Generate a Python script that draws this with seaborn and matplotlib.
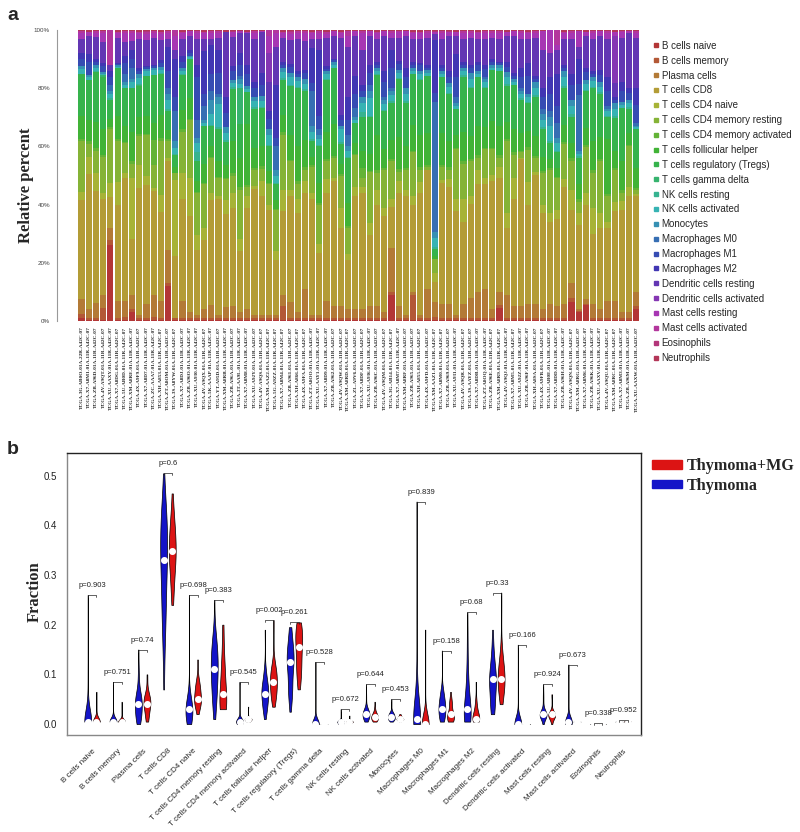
import colorsys
import pandas as pd
import matplotlib
matplotlib.use("Agg")
import matplotlib.pyplot as plt
from matplotlib.lines import Line2D
from matplotlib.patches import Patch
import seaborn as sns

# cell types in CIBERSORT order (bottom of the stack first)
cells = ["B cells naive", "B cells memory", "Plasma cells", "T cells CD8",
         "T cells CD4 naive", "T cells CD4 memory resting", "T cells CD4 memory activated",
         "T cells follicular helper", "T cells regulatory (Tregs)", "T cells gamma delta",
         "NK cells resting", "NK cells activated", "Monocytes", "Macrophages M0",
         "Macrophages M1", "Macrophages M2", "Dendritic cells resting",
         "Dendritic cells activated", "Mast cells resting", "Mast cells activated",
         "Eosinophils", "Neutrophils"]

samples = [
    "TCGA-3G-AB0O-01A-22R-A42C-07", "TCGA-X7-A8M1-01A-11R-A42C-07", "TCGA-ZB-A96D-01A-11R-A42C-07",
    "TCGA-4V-A9QT-01A-11R-A42C-07", "TCGA-XU-AAXY-01A-11R-A42C-07", "TCGA-X7-A8DG-01A-11R-A42C-07",
    "TCGA-5U-AB0D-01A-11R-A42C-07", "TCGA-XM-A8RE-01A-11R-A42C-07", "TCGA-4X-A9F9-01A-11R-A42C-07",
    "TCGA-X7-A8D7-01A-11R-A42C-07", "TCGA-ZC-AAA7-01A-11R-A42C-07", "TCGA-XH-A853-01A-11R-A42C-07",
    "TCGA-ZT-A8OM-01A-11R-A42C-07", "TCGA-3S-A8YW-01A-11R-A42C-07", "TCGA-X7-A8DJ-01A-11R-A42C-07",
    "TCGA-ZB-A96O-01A-11R-A42C-07", "TCGA-XU-A930-01A-11R-A42C-07", "TCGA-4V-A9QX-01A-11R-A42C-07",
    "TCGA-5K-AAAP-01A-11R-A42C-07", "TCGA-YT-A95D-01A-11R-A42C-07", "TCGA-XM-A8RB-01A-11R-A42C-07",
    "TCGA-ZB-A96A-01A-11R-A42C-07", "TCGA-3T-AA9L-01A-11R-A42C-07", "TCGA-X7-A8M8-01A-11R-A42C-07",
    "TCGA-XU-A92Y-01A-11R-A42C-07", "TCGA-4V-A9QS-01A-11R-A42C-07", "TCGA-XM-AAZ2-01A-11R-A42C-07",
    "TCGA-5G-A9ZZ-01A-11R-A42C-07", "TCGA-X7-A8M4-01A-11R-A42C-07", "TCGA-ZB-A961-01A-11R-A42C-07",
    "TCGA-XH-A866-01A-11R-A42C-07", "TCGA-4X-A9FA-01A-11R-A42C-07", "TCGA-ZT-A8OO-01A-11R-A42C-07",
    "TCGA-XU-AAY1-01A-21R-A42C-07", "TCGA-X7-A8D9-01A-11R-A42C-07", "TCGA-ZB-A962-01A-11R-A42C-07",
    "TCGA-4V-A9QW-01A-11R-A42C-07", "TCGA-XM-A8RD-01A-11R-A42C-07", "TCGA-ZL-A9V6-01A-11R-A42C-07",
    "TCGA-X7-A8DF-01A-11R-A42C-07", "TCGA-XU-A936-01A-11R-A42C-07", "TCGA-ZB-A96C-01A-11R-A42C-07",
    "TCGA-4V-A9QM-01A-11R-A42C-07", "TCGA-3G-AB14-01A-11R-A42C-07", "TCGA-X7-A8M7-01A-11R-A42C-07",
    "TCGA-XM-A8RF-01A-11R-A42C-07", "TCGA-ZB-A965-01A-11R-A42C-07", "TCGA-XH-A855-01A-11R-A42C-07",
    "TCGA-4X-A9FD-01A-11R-A42C-07", "TCGA-XM-AAZ1-01A-11R-A42C-07", "TCGA-X7-A8M0-01A-11R-A42C-07",
    "TCGA-ZB-A969-01A-11R-A42C-07", "TCGA-XU-A931-01A-11R-A42C-07", "TCGA-4V-A9QR-01A-11R-A42C-07",
    "TCGA-3S-AAYZ-01A-11R-A42C-07", "TCGA-X7-A8DB-01A-11R-A42C-07", "TCGA-ZT-A8OQ-01A-11R-A42C-07",
    "TCGA-ZB-A96E-01A-11R-A42C-07", "TCGA-XM-A8R9-01A-11R-A42C-07", "TCGA-4V-A9QJ-01A-11R-A42C-07",
    "TCGA-X7-A8M5-01A-11R-A42C-07", "TCGA-XU-A92Z-01A-11R-A42C-07", "TCGA-ZB-A96F-01A-11R-A42C-07",
    "TCGA-XH-A8SA-01A-11R-A42C-07", "TCGA-4X-A9FB-01A-11R-A42C-07", "TCGA-5U-AB0E-01A-11R-A42C-07",
    "TCGA-X7-A8DD-01A-11R-A42C-07", "TCGA-ZB-A96H-01A-11R-A42C-07", "TCGA-4V-A9QN-01A-11R-A42C-07",
    "TCGA-XM-A8RG-01A-11R-A42C-07", "TCGA-X7-A8M6-01A-11R-A42C-07", "TCGA-ZB-A96K-01A-11R-A42C-07",
    "TCGA-XU-AAXV-01A-11R-A42C-07", "TCGA-4V-A9QU-01A-11R-A42C-07", "TCGA-XM-A8RC-01A-11R-A42C-07",
    "TCGA-X7-A8M3-01A-11R-A42C-07", "TCGA-ZB-A96M-01A-11R-A42C-07", "TCGA-XU-AAXW-01A-11R-A42C-07"]

T, M = "Thymoma", "Thymoma+MG"
groups = [T, M, M, T, T, M, T, T, M, T,
          T, M, T, T, M, M, T, T, T, T,
          M, M, T, M, T, M, T, T, M, T,
          M, M, T, T, M, T, M, T, T, M,
          T, M, T, T, M, T, T, M, T, T,
          T, M, T, M, T, M, T, T, M, T,
          M, T, M, T, T, T, T, T, M, M,
          T, M, T, T, T, M, T, T]

b_cells_naive = [
    .010, .005, .005, .005, .260, .005, .005, .030, .005, .005,
    .005, .005, .120, .005, .005, .005, .005, .005, .005, .005,
    .005, .005, .005, .005, .005, .005, .005, .005, .005, .005,
    .005, .005, .005, .005, .005, .005, .005, .005, .005, .005,
    .005, .005, .005, .090, .005, .005, .005, .005, .005, .005,
    .005, .005, .005, .005, .005, .005, .005, .005, .045, .005,
    .005, .005, .005, .005, .005, .005, .005, .005, .065, .030,
    .055, .005, .005, .005, .005, .005, .005, .040]
b_cells_memory = [
    .015, .005, .005, .040, .020, .005, .010, .010, .005, .005,
    .010, .005, .010, .005, .005, .005, .005, .005, .005, .005,
    .005, .005, .005, .005, .005, .005, .005, .005, .045, .005,
    .005, .005, .005, .005, .005, .005, .005, .005, .005, .005,
    .005, .005, .005, .010, .005, .005, .085, .005, .005, .010,
    .005, .005, .005, .005, .005, .005, .005, .005, .010, .005,
    .005, .005, .005, .005, .005, .005, .005, .005, .015, .005,
    .005, .005, .005, .005, .005, .005, .005, .010]
plasma_cells = [
    .050, .030, .050, .045, .040, .060, .055, .050, .010, .050,
    .075, .060, .115, .000, .060, .020, .010, .030, .045, .010,
    .040, .040, .020, .030, .010, .010, .010, .010, .040, .055,
    .020, .100, .010, .010, .060, .040, .040, .030, .030, .030,
    .040, .040, .020, .150, .040, .010, .010, .010, .100, .050,
    .050, .050, .010, .050, .070, .090, .100, .030, .045, .080,
    .040, .040, .050, .050, .030, .050, .040, .050, .050, .005,
    .015, .050, .030, .060, .060, .020, .020, .050]
t_cells_cd8 = [
    .340, .465, .385, .330, .105, .330, .420, .190, .440, .410,
    .355, .305, .305, .215, .350, .330, .225, .240, .360, .400,
    .320, .340, .210, .350, .435, .410, .360, .190, .290, .365,
    .340, .330, .400, .215, .370, .430, .270, .170, .390, .400,
    .245, .350, .330, .140, .390, .410, .300, .420, .410, .070,
    .415, .400, .360, .280, .320, .370, .360, .440, .390, .230,
    .370, .505, .340, .440, .330, .280, .300, .400, .250, .290,
    .325, .240, .280, .250, .310, .350, .400, .330]
t_cells_cd4_naive = [
    .030, .060, .060, .020, .050, .080, .020, .210, .080, .030,
    .010, .060, .010, .260, .090, .130, .050, .040, .025, .010,
    .050, .050, .040, .040, .010, .050, .020, .030, .070, .020,
    .050, .040, .020, .030, .050, .010, .070, .020, .030, .020,
    .040, .050, .030, .030, .040, .020, .030, .040, .000, .030,
    .010, .030, .040, .080, .030, .050, .020, .020, .040, .050,
    .070, .005, .080, .010, .030, .030, .030, .030, .070, .040,
    .040, .090, .050, .020, .030, .030, .030, .005]
t_cells_cd4_memory_resting = [
    .175, .045, .075, .125, .185, .140, .100, .050, .100, .140,
    .080, .185, .060, .025, .140, .200, .145, .150, .120, .060,
    .070, .060, .170, .030, .055, .040, .070, .140, .190, .100,
    .050, .040, .090, .135, .060, .070, .110, .090, .110, .030,
    .175, .060, .130, .130, .030, .070, .150, .040, .010, .050,
    .045, .030, .170, .120, .120, .040, .100, .090, .030, .250,
    .080, .020, .110, .050, .110, .150, .110, .120, .100, .040,
    .160, .120, .180, .090, .110, .030, .140, .015]
t_cells_cd4_memory_activated = [
    .005, .010, .010, .005, .005, .005, .005, .010, .005, .005,
    .085, .010, .005, .000, .010, .005, .005, .005, .005, .005,
    .005, .010, .010, .010, .005, .010, .005, .005, .010, .005,
    .010, .010, .005, .005, .010, .005, .005, .005, .005, .035,
    .005, .010, .005, .005, .010, .005, .005, .010, .005, .000,
    .005, .010, .005, .010, .005, .010, .005, .005, .010, .005,
    .010, .005, .010, .005, .005, .005, .005, .005, .010, .010,
    .005, .010, .005, .005, .005, .010, .005, .005]
t_cells_follicular_helper = [
    .080, .070, .090, .090, .030, .080, .055, .100, .060, .060,
    .060, .080, .030, .020, .065, .070, .035, .065, .035, .055,
    .045, .110, .100, .210, .070, .070, .040, .030, .060, .085,
    .120, .090, .030, .070, .090, .110, .035, .080, .035, .060,
    .060, .120, .065, .065, .110, .075, .090, .110, .110, .010,
    .110, .090, .045, .100, .080, .100, .070, .090, .100, .060,
    .080, .060, .055, .070, .050, .030, .030, .060, .050, .050,
    .060, .100, .075, .190, .060, .100, .040, .070]
t_cells_regulatory = [
    .145, .140, .170, .180, .065, .165, .130, .150, .105, .140,
    .165, .140, .065, .040, .120, .135, .070, .130, .070, .110,
    .080, .180, .115, .110, .135, .130, .085, .055, .120, .170,
    .200, .170, .055, .125, .180, .195, .070, .155, .070, .115,
    .125, .205, .130, .130, .200, .150, .175, .190, .195, .025,
    .195, .160, .090, .190, .165, .170, .135, .175, .190, .125,
    .150, .115, .095, .135, .095, .055, .055, .125, .090, .090,
    .125, .180, .150, .075, .115, .180, .085, .135]
t_cells_gamma_delta = [
    0, 0, 0, .005, 0, 0, 0, 0, .004, 0,
    0, 0, 0, 0, 0, 0, 0, 0, 0, 0,
    0, 0, .125, 0, 0, 0, 0, 0, 0, 0,
    0, 0, 0, 0, 0, 0, 0, 0, 0, 0,
    0, 0, 0, 0, 0, 0, 0, 0, 0, 0,
    0, 0, 0, 0, 0, 0, 0, 0, 0, 0,
    0, 0, 0, 0, 0, 0, 0, 0, 0, 0,
    0, 0, 0, 0, 0, 0, 0, 0]
nk_cells_resting = [
    .000, .000, .005, .000, .005, .000, .000, .000, .005, .000,
    .000, .005, .010, .005, .005, .000, .030, .000, .005, .005,
    .005, .005, .000, .000, .005, .005, .005, .005, .005, .005,
    .005, .005, .005, .005, .005, .000, .005, .005, .000, .017,
    .005, .005, .005, .005, .005, .005, .000, .005, .000, .005,
    .000, .005, .000, .005, .005, .000, .005, .000, .000, .005,
    .000, .005, .005, .005, .005, .010, .005, .010, .010, .005,
    .005, .005, .005, .005, .005, .000, .005, .000]
nk_cells_activated = [
    .015, .010, .010, .005, .015, .005, .010, .020, .020, .015,
    .015, .010, .030, .020, .010, .005, .030, .010, .035, .080,
    .025, .015, .015, .010, .020, .020, .035, .025, .020, .025,
    .020, .020, .025, .020, .015, .010, .045, .020, .010, .033,
    .060, .010, .020, .020, .015, .025, .010, .015, .010, .030,
    .010, .020, .010, .015, .025, .010, .015, .010, .010, .025,
    .010, .015, .015, .025, .025, .050, .025, .030, .030, .010,
    .020, .020, .020, .015, .025, .010, .015, .005]
monocytes = [
    .010, .005, .010, .005, .010, .005, .010, .010, .015, .010,
    .010, .010, .020, .025, .010, .005, .020, .010, .050, .025,
    .020, .010, .015, .010, .015, .015, .020, .020, .015, .015,
    .015, .015, .020, .015, .010, .010, .010, .015, .010, .020,
    .025, .010, .015, .015, .010, .020, .010, .010, .010, .021,
    .010, .015, .010, .010, .020, .010, .010, .010, .010, .015,
    .010, .010, .010, .020, .020, .030, .020, .020, .020, .010,
    .015, .015, .015, .010, .020, .010, .010, .005]
macrophages_m0 = [
    0, 0, 0, 0, .02, 0, .03, .04, 0, 0,
    0, 0, .02, .10, 0, 0, .06, .05, .03, .01,
    0, 0, .01, 0, 0, 0, 0, .08, 0, 0,
    0, 0, .12, .02, 0, 0, 0, .04, .03, 0,
    .02, 0, .01, .01, 0, 0, 0, 0, 0, .45,
    0, 0, .02, 0, 0, 0, .01, 0, 0, 0,
    0, .01, 0, 0, .02, .02, .05, 0, 0, .19,
    0, 0, 0, .01, 0, 0, 0, .01]
macrophages_m1 = [
    .025, .045, .010, .020, .030, .005, .035, .030, .010, .005,
    .005, .015, .060, .050, .020, .010, .148, .040, .060, .070,
    .050, .030, .040, .040, .030, .040, .035, .030, .010, .020,
    .010, .020, .030, .045, .010, .005, .020, .050, .050, .020,
    .040, .010, .050, .070, .020, .040, .010, .020, .010, .030,
    .010, .020, .070, .010, .020, .020, .025, .010, .005, .020,
    .010, .040, .065, .010, .040, .060, .060, .010, .050, .040,
    .025, .010, .025, .050, .010, .040, .025, .060]
macrophages_m2 = [
    .020, .030, .010, .010, .020, .005, .025, .030, .010, .005,
    .005, .010, .080, .130, .020, .010, .042, .150, .100, .080,
    .055, .020, .040, .030, .020, .040, .025, .180, .010, .010,
    .010, .010, .120, .225, .010, .005, .020, .080, .060, .020,
    .030, .010, .040, .060, .010, .030, .010, .010, .010, .185,
    .010, .020, .080, .010, .010, .010, .015, .010, .005, .015,
    .010, .030, .045, .010, .030, .060, .110, .010, .040, .085,
    .015, .010, .015, .050, .010, .030, .015, .060]
dendritic_cells_resting = [
    .050, .060, .075, .075, .020, .085, .050, .030, .100, .090,
    .090, .070, .030, .030, .060, .050, .090, .040, .020, .040,
    .225, .100, .070, .110, .150, .140, .100, .130, .085, .085,
    .110, .100, .030, .040, .095, .080, .265, .170, .140, .120,
    .100, .080, .120, .040, .080, .110, .080, .080, .090, .020,
    .090, .120, .060, .080, .090, .080, .090, .070, .080, .090,
    .130, .100, .080, .130, .130, .080, .080, .090, .120, .040,
    .110, .110, .120, .130, .050, .150, .190, .170]
dendritic_cells_activated = [
    0, 0, 0, 0, 0, 0, 0, 0, 0, 0,
    0, 0, 0, 0, 0, 0, 0, 0, 0, 0,
    0, 0, 0, 0, 0, 0, .10, 0, 0, 0,
    0, 0, 0, 0, 0, 0, 0, 0, 0, 0,
    0, 0, 0, 0, 0, 0, 0, 0, 0, 0,
    0, 0, 0, 0, 0, 0, 0, 0, 0, 0,
    0, 0, 0, 0, 0, 0, 0, 0, 0, 0,
    0, 0, 0, 0, .16, 0, 0, 0]
mast_cells_resting = [
    .020, .015, .015, .030, .000, .015, .030, .030, .020, .020,
    .020, .020, .020, .050, .020, .015, .020, .020, .020, .020,
    .000, .015, .005, .005, .020, .005, .060, .050, .015, .020,
    .020, .030, .020, .020, .015, .015, .015, .040, .015, .060,
    .015, .020, .015, .020, .020, .015, .020, .020, .020, .005,
    .020, .015, .015, .020, .020, .020, .020, .020, .020, .015,
    .015, .020, .020, .020, .065, .080, .020, .020, .020, .055,
    .015, .020, .015, .020, .015, .020, .005, .020]
mast_cells_activated = [
    .005, .000, .005, .005, .120, .005, .005, .005, .005, .005,
    .005, .005, .005, .020, .005, .000, .005, .005, .005, .005,
    .000, .000, .000, .000, .005, .000, .020, .010, .005, .005,
    .005, .005, .005, .005, .005, .000, .005, .015, .000, .005,
    .000, .005, .000, .005, .005, .000, .005, .005, .005, .000,
    .005, .000, .000, .005, .005, .005, .005, .005, .005, .000,
    .000, .005, .005, .005, .000, .000, .050, .005, .005, .000,
    .000, .005, .000, .005, .000, .005, .000, .005]
eosinophils = [
    0, 0, 0, 0, 0, 0, 0, 0, 0, .003,
    0, 0, 0, 0, 0, 0, 0, 0, 0, 0,
    0, .003, 0, 0, 0, 0, 0, 0, 0, .003,
    0, 0, 0, 0, 0, 0, 0, 0, 0, 0,
    0, 0, 0, 0, 0, 0, 0, 0, 0, .003,
    0, .002, 0, 0, 0, 0, 0, 0, 0, 0,
    0, 0, 0, 0, 0, 0, 0, 0, 0, 0,
    0, 0, 0, 0, 0, 0, 0, 0]
neutrophils = [
    .005, .006, .004, .005, .000, .007, .005, .004, .006, .005,
    .004, .008, .005, .000, .006, .004, .005, .006, .005, .004,
    .006, .005, .004, .007, .005, .003, .000, .000, .006, .005,
    .005, .004, .006, .005, .008, .004, .006, .005, .004, .005,
    .004, .006, .005, .004, .003, .005, .006, .007, .004, .005,
    .005, .004, .006, .005, .004, .006, .005, .004, .005, .006,
    .004, .005, .007, .004, .005, .000, .000, .006, .005, .004,
    .006, .005, .004, .005, .006, .003, .005, .004]

p_values = ["p=0.903", "p=0.751", "p=0.74", "p=0.6", "p=0.698", "p=0.383", "p=0.545",
            "p=0.002", "p=0.261", "p=0.528", "p=0.672", "p=0.644", "p=0.453", "p=0.839",
            "p=0.158", "p=0.68", "p=0.33", "p=0.166", "p=0.924", "p=0.673", "p=0.338",
            "p=0.952"]

columns = [b_cells_naive, b_cells_memory, plasma_cells, t_cells_cd8, t_cells_cd4_naive,
           t_cells_cd4_memory_resting, t_cells_cd4_memory_activated, t_cells_follicular_helper,
           t_cells_regulatory, t_cells_gamma_delta, nk_cells_resting, nk_cells_activated,
           monocytes, macrophages_m0, macrophages_m1, macrophages_m2, dendritic_cells_resting,
           dendritic_cells_activated, mast_cells_resting, mast_cells_activated, eosinophils,
           neutrophils]

frac = pd.DataFrame(dict(zip(cells, columns)), index=samples)
frac = frac.div(frac.sum(axis=1), axis=0)
long = frac.reset_index(names="sample").melt(id_vars="sample", var_name="cell", value_name="frac")
long["group"] = long["sample"].map(dict(zip(samples, groups)))

# rainbow(22, s=0.7, v=0.7)
cell_colors = [colorsys.hsv_to_rgb(i / 22, 0.7, 0.7) for i in range(22)]
palette = dict(zip(cells, cell_colors))
group_colors = {T: "#1414C8", M: "#DC1414"}

sns.set_style("white")
plt.rcParams["font.family"] = ["Liberation Sans", "DejaVu Sans"]
serif = ["Liberation Serif", "DejaVu Serif"]

fig = plt.figure(figsize=(8, 8.32), dpi=100)

# ---- a: stacked bars
ax1 = fig.add_axes([57 / 800, 1 - 321 / 832, 583 / 800, 291 / 832])
sns.histplot(data=long, x="sample", weights="frac", hue="cell", hue_order=cells[::-1],
             multiple="stack", discrete=True, shrink=0.86, palette=palette, alpha=1,
             linewidth=0, legend=False, ax=ax1)
ax1.set_xlim(-3.41, len(samples) - 0.5)
ax1.set_ylim(0, 1)
ax1.set_yticks([0, .2, .4, .6, .8, 1])
ax1.set_yticklabels(["0%", "20%", "40%", "60%", "80%", "100%"], fontsize=4.5, color="#444")
ax1.set_xticks(range(len(samples)))
ax1.set_xticklabels(samples, rotation=90, fontsize=3.8, family=serif, fontweight="bold")
ax1.tick_params(axis="x", length=2, width=0.4, pad=2, color="#888")
ax1.tick_params(axis="y", length=3, width=0.6, pad=2, color="#888")
for s in ["top", "right", "bottom"]:
    ax1.spines[s].set_visible(False)
ax1.spines["left"].set_color("#999")
ax1.spines["left"].set_linewidth(0.8)
ax1.set_xlabel("")
ax1.set_ylabel("Relative percent", fontsize=12, fontweight="bold", family=serif)
ax1.yaxis.set_label_coords(-0.04, 0.467)

fig.legend(handles=[Line2D([], [], marker="s", ls="", color=palette[c], markersize=3.2, label=c)
                    for c in cells],
           loc="upper left", bbox_to_anchor=(648 / 800, 1 - 37 / 832), frameon=False,
           fontsize=7, labelspacing=0.5, handletextpad=0.2, handlelength=0.8, borderaxespad=0)

# ---- b: violins
order_groups = [T, M]
ax2 = fig.add_axes([67 / 800, 1 - 735 / 832, 574 / 800, 282 / 832])
sns.violinplot(data=long, x="cell", y="frac", hue="group", order=cells, hue_order=order_groups,
               palette=group_colors, width=0.68, gap=0.2, inner=None, cut=0, bw_adjust=1.2,
               density_norm="width", linewidth=0.5, linecolor="black", saturation=1,
               legend=False, ax=ax2)
sns.pointplot(data=long, x="cell", y="frac", hue="group", order=cells, hue_order=order_groups,
              estimator="median", errorbar=None, dodge=0.34, palette={T: "white", M: "white"},
              markers="o", linestyles="none", markersize=3, legend=False, ax=ax2)

tops = long.groupby("cell")["frac"].max().reindex(cells)
for i, top in enumerate(tops):
    ax2.plot([i - 0.17, i - 0.17, i + 0.17, i + 0.17], [top - 0.004, top, top, top - 0.004],
             color="#222", lw=0.5)
    ax2.text(i, top + 0.012, p_values[i], ha="center", va="bottom", fontsize=5.5, color="#222")

ax2.set_xlim(-0.99, 21.7)
ax2.set_ylim(-0.022, 0.546)
ax2.set_yticks([0, .1, .2, .3, .4, .5])
ax2.set_yticklabels(["0.0", "0.1", "0.2", "0.3", "0.4", "0.5"], fontsize=7, color="#222")
ax2.set_xticks(range(len(cells)))
ax2.set_xticklabels(cells, rotation=45, ha="right", rotation_mode="anchor", fontsize=5.8)
ax2.tick_params(axis="x", length=0, pad=9)
ax2.tick_params(axis="y", length=4, width=0.6, pad=3, color="#444")
ax2.set_xlabel("")
ax2.set_ylabel("Fraction", fontsize=12, fontweight="bold", family=serif)
ax2.yaxis.set_label_coords(-0.042, 0.51)
for s in ["top", "right"]:
    ax2.spines[s].set_color("#222")
for s in ["left", "bottom"]:
    ax2.spines[s].set_color("#888")
for s in ax2.spines.values():
    s.set_linewidth(1)

fig.legend(handles=[Patch(color=group_colors[M], label=M), Patch(color=group_colors[T], label=T)],
           loc="upper left", bbox_to_anchor=(646 / 800, 1 - 452 / 832), frameon=False,
           prop=dict(family=serif, weight="bold", size=11.6), handlelength=1.85, handleheight=0.45,
           labelspacing=0.2, handletextpad=0.3, borderaxespad=0)

fig.text(13 / 800, 1 - 16 / 832, "a", fontsize=14, fontweight="bold", ha="center", va="center")
fig.text(13 / 800, 1 - 449 / 832, "b", fontsize=14, fontweight="bold", ha="center", va="center")

fig.savefig("out.png", dpi=100)
